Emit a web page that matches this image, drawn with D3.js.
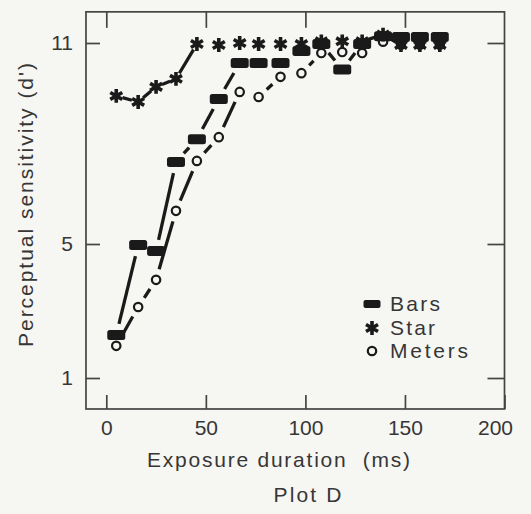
<!DOCTYPE html>
<html>
<head>
<meta charset="utf-8">
<script src="https://cdn.jsdelivr.net/npm/d3@7"></script>
<style>
  html,body{margin:0;background:#f6f6f3;}
  svg{display:block;font-family:"Liberation Sans",Arial,Helvetica,sans-serif;}
  .lab{white-space:pre;}
</style>
</head>
<body>
<svg id="chart" width="531" height="514"></svg>
<script>
const DURATION=[5,16,25,35,45.5,56.5,67,76.5,87.5,98,108,118.5,128.5,139,148,157.5,167.5];
const BARS  =[2.28,4.97,4.79,7.45,8.13,9.33,10.4,10.4,10.4,10.76,10.97,10.21,10.97,11.2,11.18,11.18,11.18];
const STAR  =[9.42,9.24,9.69,9.93,10.97,10.94,11.0,10.97,10.97,10.97,11.05,11.05,11.05,11.25,10.94,10.94,10.94];
const METERS=[1.96,3.12,3.93,5.99,7.48,8.19,9.54,9.39,9.99,10.1,10.7,10.73,10.7,11.04,10.95,10.95,10.95];
const X_TICKS=[0,50,100,150,200];
const Y_TICKS=[1,5,11];
const LEGEND=["Bars","Star","Meters"];

const INK="#1a1a1a",TXT="#363636",BG="#f6f6f3";
const svg=d3.select("#chart");
const x=d3.scaleLinear().domain([0,200]).range([106.3,504.5]);
const y=d3.scaleLinear().domain([1,11]).range([378,43]);
const X0=x(-10.2),X1=x(200),Y0=y(0.075),Y1=y(11.93);

// ── frame + inward ticks ──
svg.append("rect").attr("x",X0).attr("y",Y1).attr("width",X1-X0).attr("height",Y0-Y1)
  .attr("fill","none").attr("stroke","#444").attr("stroke-width",1.7);

function styleAxis(g){
  g.select(".domain").remove();
  g.selectAll(".tick line").attr("stroke","#444").attr("stroke-width",1.7);
  g.selectAll(".tick text").attr("fill",TXT).attr("font-size",21).attr("font-family",null);
}
svg.append("g").attr("transform",`translate(0,${Y0})`)
  .call(d3.axisBottom(x).tickValues(X_TICKS).tickSize(-14).tickPadding(11)).call(styleAxis)
  .selectAll(".tick text").attr("dx",d=>d===200?-9.5:0);
svg.append("g").attr("transform",`translate(0,${Y1})`)
  .call(d3.axisTop(x).tickValues(X_TICKS.slice(0,4)).tickSize(-16).tickFormat("")).call(styleAxis);
svg.append("g").attr("transform",`translate(${X0},0)`)
  .call(d3.axisLeft(y).tickValues(Y_TICKS).tickSize(-14).tickPadding(13)).call(styleAxis);
svg.append("g").attr("transform",`translate(${X1},0)`)
  .call(d3.axisRight(y).tickValues(Y_TICKS).tickSize(-17).tickFormat("")).call(styleAxis);

// ── titles (the scan's type runs wide, so stretch to the measured length) ──
const label=(t,px,py,len,rot)=>svg.append("text").attr("class","lab")
  .attr("transform",`translate(${px},${py})`+(rot?` rotate(${rot})`:""))
  .attr("text-anchor","middle").attr("font-size",21).attr("fill",TXT)
  .attr("textLength",len).attr("lengthAdjust","spacing").text(t);
label("Exposure duration  (ms)",278.5,467,263);
label("Plot D",307.5,502,68);
label("Perceptual sensitivity (d')",33,205,284,-90);

// ── series: short connector dashes, gapped around each marker ──
const SERIES=[
  {name:"Meters",vals:METERS,gap:11},
  {name:"Bars",vals:BARS,gap:11.5},
  {name:"Star",vals:STAR,gap:6.5},
];
const gLines=svg.append("g").attr("stroke",INK).attr("stroke-width",3.3);
SERIES.forEach(s=>{
  const pts=s.vals.map((v,i)=>[x(DURATION[i]),y(v)]);
  for(let i=0;i<pts.length-1;i++){
    const [ax,ay]=pts[i],[bx,by]=pts[i+1];
    const dx=bx-ax,dy=by-ay,d=Math.hypot(dx,dy);
    if(Math.abs(dy)<3||d-2*s.gap<4)continue;
    const ux=dx/d,uy=dy/d;
    gLines.append("line").attr("x1",ax+ux*s.gap).attr("y1",ay+uy*s.gap)
      .attr("x2",bx-ux*s.gap).attr("y2",by-uy*s.gap);
  }
});

const star=d3.symbol(d3.symbolAsterisk,135);
function marker(g,type){
  if(type==="Meters")g.append("circle").attr("r",4.2).attr("fill",BG).attr("stroke",INK).attr("stroke-width",2.2);
  else if(type==="Bars")g.append("rect").attr("x",-9).attr("y",-5).attr("width",18).attr("height",10).attr("rx",2.5).attr("fill",INK);
  else g.append("path").attr("d",star()).attr("fill","none").attr("stroke",INK).attr("stroke-width",3.6);
}
SERIES.forEach(s=>{
  svg.append("g").selectAll("g").data(s.vals).join("g")
    .attr("transform",(v,i)=>`translate(${x(DURATION[i])},${y(v)})`)
    .each(function(){marker(d3.select(this),s.name);});
});

// ── legend ──
const LEG_Y=[304,328,351],LEG_W=[50,45,78];
LEGEND.forEach((t,i)=>{
  const g=svg.append("g").attr("transform",`translate(372,${LEG_Y[i]})`);
  if(t==="Bars")g.append("rect").attr("x",-8.5).attr("y",-4).attr("width",17).attr("height",8).attr("rx",2).attr("fill",INK);
  else marker(g,t);
  g.append("text").attr("x",18).attr("y",7).attr("font-size",21).attr("fill",TXT)
    .attr("textLength",LEG_W[i]).attr("lengthAdjust","spacing").text(t);
});
</script>
</body>
</html>
